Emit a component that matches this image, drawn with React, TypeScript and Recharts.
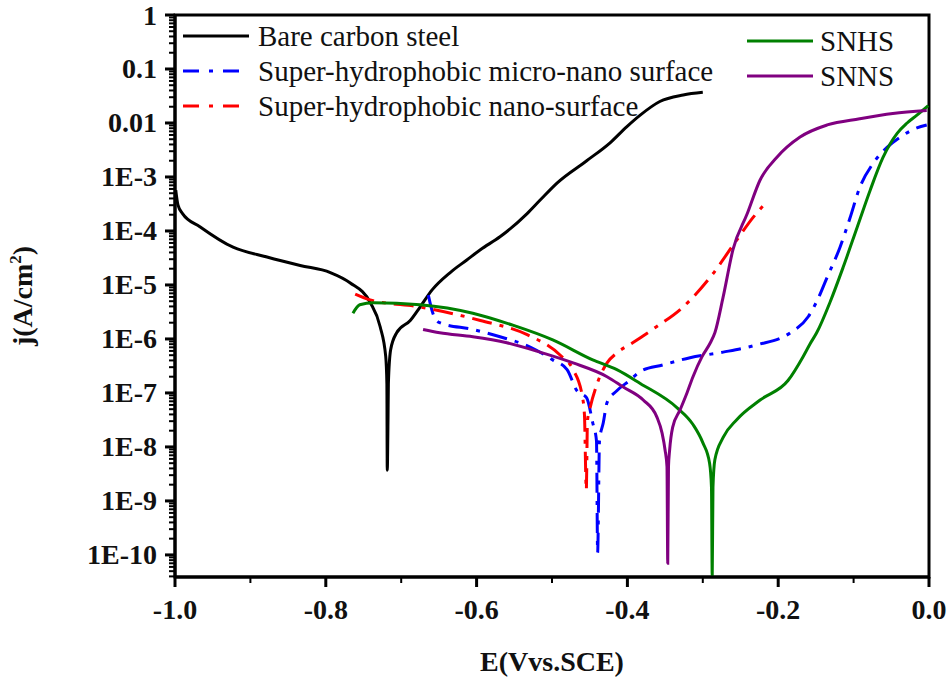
import React from 'react';
import { LineChart, Line, XAxis, YAxis, ReferenceArea, Legend } from 'recharts';

type Pt = { E: number; j: number };

const bareCarbonSteel: Pt[] = [
  { E: -0.999, j: 5.7e-4 }, { E: -0.996, j: 3.0e-4 }, { E: -0.99, j: 2.1e-4 },
  { E: -0.967, j: 1.2e-4 }, { E: -0.923, j: 5.0e-5 }, { E: -0.878, j: 3.3e-5 },
  { E: -0.834, j: 2.3e-5 }, { E: -0.794, j: 1.7e-5 }, { E: -0.768, j: 1.1e-5 },
  { E: -0.741, j: 4.7e-6 }, { E: -0.728, j: 1.7e-6 }, { E: -0.7205, j: 4.7e-7 },
  { E: -0.719, j: 1.5e-7 }, { E: -0.7185, j: 3.7e-9 }, { E: -0.7175, j: 3.2e-8 },
  { E: -0.717, j: 1.5e-7 }, { E: -0.714, j: 6.3e-7 }, { E: -0.706, j: 1.3e-6 },
  { E: -0.688, j: 2.2e-6 }, { E: -0.675, j: 3.9e-6 }, { E: -0.659, j: 8.1e-6 },
  { E: -0.635, j: 1.7e-5 }, { E: -0.613, j: 2.9e-5 }, { E: -0.595, j: 4.5e-5 },
  { E: -0.569, j: 7.8e-5 }, { E: -0.533, j: 2.1e-4 }, { E: -0.516, j: 3.7e-4 },
  { E: -0.493, j: 7.8e-4 }, { E: -0.454, j: 2.0e-3 }, { E: -0.423, j: 4.3e-3 },
  { E: -0.401, j: 8.5e-3 }, { E: -0.383, j: 1.4e-2 }, { E: -0.357, j: 2.5e-2 },
  { E: -0.326, j: 3.3e-2 }, { E: -0.3, j: 3.7e-2 },
];

const microNanoSurface: Pt[] = [
  { E: -0.664, j: 6.5e-6 }, { E: -0.658, j: 3.0e-6 }, { E: -0.649, j: 2.0e-6 },
  { E: -0.605, j: 1.5e-6 }, { E: -0.569, j: 1.1e-6 }, { E: -0.529, j: 7.1e-7 },
  { E: -0.499, j: 4.1e-7 }, { E: -0.48, j: 2.7e-7 }, { E: -0.467, j: 1.1e-7 },
  { E: -0.454, j: 8.1e-8 }, { E: -0.446, j: 2.8e-8 }, { E: -0.441, j: 1.3e-8 },
  { E: -0.4395, j: 1.1e-10 }, { E: -0.437, j: 1.3e-8 }, { E: -0.432, j: 2.8e-8 },
  { E: -0.427, j: 6.6e-8 }, { E: -0.414, j: 1.1e-7 }, { E: -0.397, j: 1.7e-7 },
  { E: -0.383, j: 2.5e-7 }, { E: -0.353, j: 3.3e-7 }, { E: -0.317, j: 4.5e-7 },
  { E: -0.273, j: 5.7e-7 }, { E: -0.228, j: 7.8e-7 }, { E: -0.184, j: 1.3e-6 },
  { E: -0.16, j: 2.6e-6 }, { E: -0.149, j: 4.9e-6 }, { E: -0.135, j: 1.4e-5 },
  { E: -0.118, j: 5.0e-5 }, { E: -0.105, j: 1.7e-4 }, { E: -0.092, j: 6.3e-4 },
  { E: -0.074, j: 1.8e-3 }, { E: -0.056, j: 3.5e-3 }, { E: -0.038, j: 5.5e-3 },
  { E: -0.016, j: 8.1e-3 }, { E: -0.003, j: 9.2e-3 },
];

const nanoSurface: Pt[] = [
  { E: -0.761, j: 6.8e-6 }, { E: -0.741, j: 5.3e-6 }, { E: -0.675, j: 3.9e-6 },
  { E: -0.595, j: 2.2e-6 }, { E: -0.533, j: 1.2e-6 }, { E: -0.489, j: 5.0e-7 },
  { E: -0.472, j: 2.7e-7 }, { E: -0.46, j: 9.0e-8 }, { E: -0.457, j: 4.0e-8 },
  { E: -0.4545, j: 1.6e-9 }, { E: -0.453, j: 3.0e-8 }, { E: -0.45, j: 4.9e-8 },
  { E: -0.44, j: 1.5e-7 }, { E: -0.427, j: 3.6e-7 }, { E: -0.414, j: 5.5e-7 },
  { E: -0.393, j: 8.5e-7 }, { E: -0.361, j: 1.7e-6 }, { E: -0.33, j: 3.5e-6 },
  { E: -0.317, j: 5.2e-6 }, { E: -0.29, j: 1.4e-5 }, { E: -0.255, j: 6.8e-5 },
  { E: -0.233, j: 1.8e-4 }, { E: -0.215, j: 3.5e-4 },
];

const snhs: Pt[] = [
  { E: -0.764, j: 3.0e-6 }, { E: -0.755, j: 4.3e-6 }, { E: -0.737, j: 4.7e-6 },
  { E: -0.675, j: 4.3e-6 }, { E: -0.605, j: 3.0e-6 }, { E: -0.552, j: 1.8e-6 },
  { E: -0.499, j: 9.6e-7 }, { E: -0.446, j: 4.1e-7 }, { E: -0.414, j: 2.7e-7 },
  { E: -0.383, j: 1.5e-7 }, { E: -0.334, j: 5.3e-8 }, { E: -0.313, j: 2.6e-8 },
  { E: -0.3, j: 1.2e-8 }, { E: -0.291, j: 5.0e-9 }, { E: -0.2885, j: 1.8e-9 },
  { E: -0.2875, j: 4.0e-11 }, { E: -0.2865, j: 1.8e-9 }, { E: -0.284, j: 5.8e-9 },
  { E: -0.273, j: 1.5e-8 }, { E: -0.255, j: 3.2e-8 }, { E: -0.224, j: 7.4e-8 },
  { E: -0.187, j: 1.7e-7 }, { E: -0.167, j: 4.7e-7 }, { E: -0.158, j: 8.0e-7 },
  { E: -0.149, j: 1.3e-6 }, { E: -0.131, j: 4.9e-6 }, { E: -0.114, j: 2.1e-5 },
  { E: -0.095, j: 1.2e-4 }, { E: -0.078, j: 5.7e-4 }, { E: -0.061, j: 2.3e-3 },
  { E: -0.042, j: 6.5e-3 }, { E: -0.029, j: 1.0e-2 }, { E: -0.016, j: 1.4e-2 },
  { E: -0.001, j: 2.1e-2 },
];

const snns: Pt[] = [
  { E: -0.671, j: 1.5e-6 }, { E: -0.649, j: 1.3e-6 }, { E: -0.605, j: 1.1e-6 },
  { E: -0.56, j: 8.5e-7 }, { E: -0.516, j: 5.7e-7 }, { E: -0.472, j: 3.6e-7 },
  { E: -0.427, j: 2.0e-7 }, { E: -0.406, j: 1.3e-7 }, { E: -0.379, j: 7.4e-8 },
  { E: -0.361, j: 3.6e-8 }, { E: -0.354, j: 1.8e-8 }, { E: -0.35, j: 8.7e-9 },
  { E: -0.3475, j: 4.3e-9 }, { E: -0.3465, j: 7.0e-11 }, { E: -0.3455, j: 4.3e-9 },
  { E: -0.344, j: 8.7e-9 }, { E: -0.34, j: 2.3e-8 }, { E: -0.33, j: 4.9e-8 },
  { E: -0.321, j: 1.0e-7 }, { E: -0.313, j: 2.0e-7 }, { E: -0.301, j: 4.7e-7 },
  { E: -0.29, j: 8.5e-7 }, { E: -0.284, j: 1.3e-6 }, { E: -0.273, j: 6.0e-6 },
  { E: -0.26, j: 4.5e-5 }, { E: -0.241, j: 2.1e-4 }, { E: -0.224, j: 8.8e-4 },
  { E: -0.202, j: 2.3e-3 }, { E: -0.171, j: 5.5e-3 }, { E: -0.135, j: 9.2e-3 },
  { E: -0.092, j: 1.2e-2 }, { E: -0.048, j: 1.5e-2 }, { E: -0.003, j: 1.7e-2 },
];

const seriesNames = [
  'Bare carbon steel',
  'Super-hydrophobic micro-nano surface',
  'Super-hydrophobic nano-surface',
  'SNHS',
  'SNNS',
];
const seriesColors = ['#000000', '#0000FF', '#FF0000', '#008000', '#800080'];

const xTicks = [-1.0, -0.9, -0.8, -0.7, -0.6, -0.5, -0.4, -0.3, -0.2, -0.1, 0.0];
const yMajorTicks = [1e-10, 1e-9, 1e-8, 1e-7, 1e-6, 1e-5, 1e-4, 1e-3, 1e-2, 1e-1, 1];
const yTickLabels = ['1E-10', '1E-9', '1E-8', '1E-7', '1E-6', '1E-5', '1E-4', '1E-3', '0.01', '0.1', '1'];
const yMinorMultipliers = [2, 3, 4, 5, 6, 7, 8, 9];

const Y_MIN = 3.9e-11;
const Y_MAX = 1;

const yTicks: number[] = [];
yMajorTicks.forEach((m, i) => {
  yTicks.push(m);
  if (i < yMajorTicks.length - 1) yMinorMultipliers.forEach((k) => yTicks.push(m * k));
});
[4, 5, 6, 7, 8, 9].forEach((k) => yTicks.push(1e-11 * k));

const FONT = '"Liberation Serif", "Times New Roman", serif';
const DASH = '20 8 4 8';

const YTick = (props: any) => {
  const { x, y, payload } = props;
  const v = payload.value as number;
  const idx = yMajorTicks.findIndex((m) => Math.abs(Math.log10(m) - Math.log10(v)) < 1e-6);
  const major = idx >= 0;
  const len = major ? 10 : 6;
  return (
    <g>
      <line x1={x - len} x2={x} y1={y} y2={y} stroke="#000" strokeWidth={major ? 3 : 2} />
      {major && (
        <text x={x - 18} y={y} textAnchor="end" dominantBaseline="central"
          style={{ fontFamily: FONT, fontWeight: 'bold', fontSize: 28, fill: '#111' }}>
          {yTickLabels[idx]}
        </text>
      )}
    </g>
  );
};

const XTick = (props: any) => {
  const { x, y, payload } = props;
  const v = payload.value as number;
  const major = Math.round(v * 10) % 2 === 0;
  const len = major ? 10 : 6;
  return (
    <g>
      <line x1={x} x2={x} y1={y} y2={y + len} stroke="#000" strokeWidth={major ? 3 : 2} />
      {major && (
        <text x={x} y={y + 42} textAnchor="middle"
          style={{ fontFamily: FONT, fontWeight: 'bold', fontSize: 28, fill: '#111' }}>
          {v.toFixed(1)}
        </text>
      )}
    </g>
  );
};

const XTitle = (props: any) => {
  const { viewBox } = props;
  return (
    <text x={viewBox.x + viewBox.width / 2} y={viewBox.y + 94} textAnchor="middle"
      style={{ fontFamily: FONT, fontWeight: 'bold', fontSize: 28, fill: '#111' }}>
      E(Vvs.SCE)
    </text>
  );
};

const YTitle = (props: any) => {
  const { viewBox } = props;
  const cx = viewBox.x + 32;
  const cy = viewBox.y + viewBox.height / 2;
  return (
    <text x={cx} y={cy} textAnchor="middle" transform={`rotate(-90 ${cx} ${cy})`}
      style={{ fontFamily: FONT, fontWeight: 'bold', fontSize: 28, fill: '#111' }}>
      j(A/cm<tspan dy={-11} style={{ fontSize: 17 }}>2</tspan><tspan dy={11}>)</tspan>
    </text>
  );
};

const LegendContent = () => {
  const left = [0, 1, 2];
  const right = [3, 4];
  const textStyle = { fontFamily: FONT, fontSize: 29, fill: '#111' };
  return (
    <svg width={949} height={130}>
      {left.map((i, k) => {
        const y = 36 + k * 35;
        return (
          <g key={i}>
            <line x1={183} x2={249} y1={y} y2={y} stroke={seriesColors[i]} strokeWidth={3}
              strokeDasharray={i === 0 ? undefined : '16 10 4 10'} />
            <text x={258} y={y + 10} style={textStyle}>{seriesNames[i]}</text>
          </g>
        );
      })}
      {right.map((i, k) => {
        const y = 41 + k * 35;
        return (
          <g key={i}>
            <line x1={747} x2={813} y1={y} y2={y} stroke={seriesColors[i]} strokeWidth={3} />
            <text x={820} y={y + 10} style={textStyle}>{seriesNames[i]}</text>
          </g>
        );
      })}
    </svg>
  );
};

const seriesData = [bareCarbonSteel, microNanoSurface, nanoSurface, snhs, snns];

export default function App() {
  return (
    <div style={{ position: 'absolute', left: 0, top: 0, width: 949, height: 679, background: '#fff' }}>
      <LineChart width={949} height={679} margin={{ top: 15, right: 20, bottom: 0, left: 0 }}>
        <XAxis type="number" dataKey="E" domain={[-1, 0]} ticks={xTicks} interval={0}
          allowDataOverflow tick={<XTick />} tickLine={false} tickSize={0} tickMargin={0}
          axisLine={{ stroke: '#000', strokeWidth: 3 }} height={102} label={<XTitle />} />
        <YAxis type="number" dataKey="j" scale="log" domain={[Y_MIN, Y_MAX]} ticks={yTicks}
          interval={0} allowDataOverflow tick={<YTick />} tickLine={false} tickSize={0}
          tickMargin={0} axisLine={{ stroke: '#000', strokeWidth: 3 }} width={175}
          label={<YTitle />} />
        {seriesData.map((d, i) => (
          <Line key={seriesNames[i]} data={d} dataKey="j" name={seriesNames[i]} type="monotone"
            stroke={seriesColors[i]} strokeWidth={3} dot={false} activeDot={false}
            strokeDasharray={i === 1 || i === 2 ? DASH : undefined}
            isAnimationActive={false} />
        ))}
        <ReferenceArea x1={-1} x2={0} y1={Y_MIN} y2={Y_MAX} fill="none" fillOpacity={0}
          stroke="#000" strokeWidth={3} ifOverflow="visible" />
        <Legend layout="vertical" align="center" verticalAlign="middle" content={<LegendContent />}
          wrapperStyle={{ left: 0, top: 0, width: 949, height: 130 }} />
      </LineChart>
    </div>
  );
}
